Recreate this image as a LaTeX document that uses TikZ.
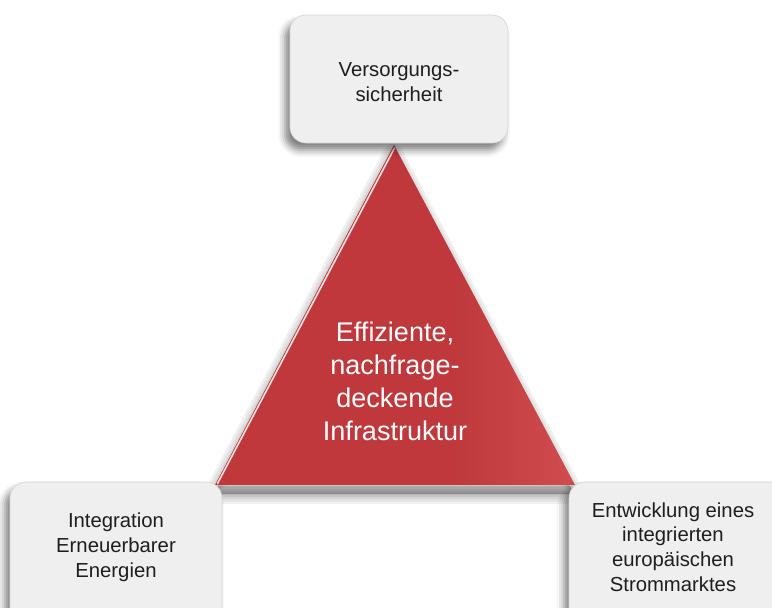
\documentclass[tikz,border=0pt]{standalone}
\usepackage{fontspec}
\setmainfont{Liberation Sans}
\usetikzlibrary{calc,shadows.blur}
\definecolor{boxfill}{RGB}{239,239,239}
\definecolor{boxline}{RGB}{212,212,212}
\definecolor{triD}{RGB}{190,56,60}
\definecolor{triL}{RGB}{212,80,82}
\definecolor{txt}{RGB}{30,30,30}
\pgfdeclarehorizontalshading{trishade}{100bp}{color(0bp)=(triD); color(58bp)=(triD); color(78bp)=(triL); color(92bp)=(triL); color(100bp)=(triD)}
\tikzset{
  infobox/.style={draw=boxline, line width=0.6pt, fill=boxfill, rounded corners=16pt,
    blur shadow={shadow xshift=-5pt, shadow yshift=-7pt, shadow blur radius=7pt, shadow opacity=50}},
  boxtext/.style={align=center, text=txt, font=\fontsize{20.3}{24.8}\selectfont},
  tritext/.style={align=center, text=white, font=\fontsize{27}{33}\selectfont},
  trishadow/.style={black, opacity=0.06, line join=round},
}
\begin{document}
\begin{tikzpicture}[x=1pt,y=-1pt]
\useasboundingbox (0,0) rectangle (772,608);
\clip (0,0) rectangle (772,608);
% triangle
\coordinate (apex) at (394,145);
\coordinate (bl) at (215,485);
\coordinate (br) at (575,485);
\foreach \w in {20,15,10,6,2}{
  \filldraw[trishadow, line width=\w pt] ($(apex)+(-1,9)$) -- ($(br)+(-1,9)$) -- ($(bl)+(-1,9)$) -- cycle;
}
\shade[shading=trishade] (apex) -- (br) -- (bl) -- cycle;
\draw[white, line width=1.6pt, opacity=0.85, line cap=round] ($(bl)+(2.5,-1.5)$) -- ($(apex)+(0.5,3)$);
\draw[white, line width=0.6pt, opacity=0.35] (bl) -- (br);
\node[tritext] (core) at (395,381) {Effiziente,\\nachfrage-\\deckende\\Infrastruktur};
% boxes
\draw[infobox] (290,15) rectangle (508,143);
\node[boxtext] (top) at (399,82) {Versorgungs-\\sicherheit};
\draw[infobox] (10,482) rectangle (222,640);
\node[boxtext] (left) at (116,547) {Integration\\Erneuerbarer\\Energien};
\draw[infobox] (569,482) rectangle (800,640);
\node[boxtext] (right) at (673,547) {Entwicklung eines\\integrierten\\europäischen\\Strommarktes};
\end{tikzpicture}
\end{document}
